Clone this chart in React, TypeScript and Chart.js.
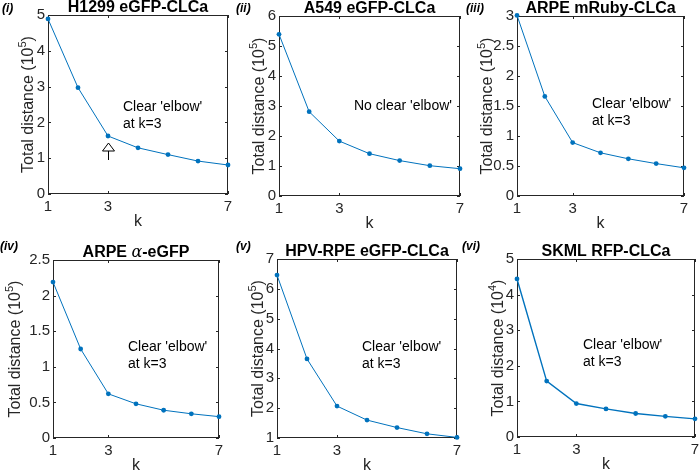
import React, { useEffect, useRef } from "react";
import { Chart, registerables } from "chart.js";

Chart.register(...registerables);

// ---------------- data ----------------
const kValues = [1, 2, 3, 4, 5, 6, 7];
const xTickValues = [1, 3, 7];

const h1299Values = [4.89, 2.97, 1.62, 1.29, 1.1, 0.92, 0.81];
const a549Values = [5.39, 2.81, 1.83, 1.41, 1.18, 1.01, 0.91];
const arpeRubyValues = [3.01, 1.66, 0.89, 0.72, 0.62, 0.54, 0.47];
const arpeAlphaValues = [2.19, 1.25, 0.62, 0.48, 0.39, 0.34, 0.3];
const hpvRpeValues = [6.46, 3.65, 2.07, 1.6, 1.35, 1.14, 1.02];
const skmlValues = [4.44, 1.57, 0.94, 0.79, 0.66, 0.58, 0.51];

const seriesList = [h1299Values, a549Values, arpeRubyValues, arpeAlphaValues, hpvRpeValues, skmlValues];

const panelLabels = ["(i)", "(ii)", "(iii)", "(iv)", "(v)", "(vi)"];
const titleParts: { t: string; s: string }[][] = [
  [{ t: "H1299 eGFP-CLCa", s: "bold" }],
  [{ t: "A549 eGFP-CLCa", s: "bold" }],
  [{ t: "ARPE mRuby-CLCa", s: "bold" }],
  [{ t: "ARPE ", s: "bold" }, { t: "α", s: "italic" }, { t: "-eGFP", s: "bold" }],
  [{ t: "HPV-RPE eGFP-CLCa", s: "bold" }],
  [{ t: "SKML RFP-CLCa", s: "bold" }],
];
const yTitleText = "Total distance (10";
const yExponents = ["5", "5", "5", "5", "5", "4"];
const xTitleText = "k";
const yMins = [0, 0, 0, 0, 1, 0];
const yMaxs = [5, 6, 3, 2.5, 7, 5];
const ySteps = [1, 1, 0.5, 0.5, 1, 1];
const notes = [
  ["Clear 'elbow'", "at k=3"],
  ["No clear 'elbow'"],
  ["Clear 'elbow'", "at k=3"],
  ["Clear 'elbow'", "at k=3"],
  ["Clear 'elbow'", "at k=3"],
  ["Clear 'elbow'", "at k=3"],
];
const arrowAtK = [3, null, null, null, null, null];

// ---------------- layout (pixels) ----------------
const W = 699;
const H = 472;
// [left, top, right, bottom] of each plot area
const areas = [
  [48, 15, 228, 194],
  [279, 16, 460, 196],
  [517, 16, 684, 196],
  [53, 260, 219, 438],
  [277, 259, 457, 438],
  [517, 259, 696, 437],
];
const yTitleX = [27, 258, 486, 14, 257, 497];
const labelPos = [
  [2, 12],
  [236, 12],
  [466, 12],
  [0, 250],
  [236, 250],
  [462, 250],
];
const notePos = [
  [123, 111],
  [354, 110],
  [592, 108],
  [128, 351],
  [362, 351],
  [583, 349],
];
const lineWidths = [1, 1, 1, 1, 1, 1.4];

const FONT = '"Liberation Sans", Arial, Helvetica, sans-serif';
const TEXT = "#262626";
const BLUE = "#0072BD";

function makeOverlay(i: number) {
  return {
    id: "matlabFrame" + i,
    beforeDatasetsDraw(chart: any) {
      const { ctx, chartArea } = chart;
      const { left, top, right, bottom } = chartArea;
      const xs = chart.scales.x;
      const ys = chart.scales.y;
      ctx.save();
      ctx.strokeStyle = TEXT;
      ctx.lineWidth = 1;
      ctx.strokeRect(left + 0.5, top + 0.5, right - left - 1, bottom - top - 1);
      ctx.beginPath();
      for (const t of ys.ticks) {
        const py = Math.round(ys.getPixelForValue(t.value)) + 0.5;
        ctx.moveTo(left, py);
        ctx.lineTo(left + 3, py);
        ctx.moveTo(right, py);
        ctx.lineTo(right - 3, py);
      }
      for (const t of xs.ticks) {
        const px = Math.round(xs.getPixelForValue(t.value)) + 0.5;
        ctx.moveTo(px, bottom);
        ctx.lineTo(px, bottom - 3);
        ctx.moveTo(px, top);
        ctx.lineTo(px, top + 3);
      }
      ctx.stroke();
      ctx.restore();
    },
    afterDraw(chart: any) {
      const { ctx, chartArea } = chart;
      const { left, top, right, bottom } = chartArea;
      const xs = chart.scales.x;
      const ys = chart.scales.y;
      ctx.save();
      ctx.fillStyle = "#000";
      ctx.textBaseline = "alphabetic";

      // title (segments)
      const parts = titleParts[i];
      const fontFor = (s: string) =>
        s === "italic" ? `italic 16px "DejaVu Serif", serif` : `bold 16px ${FONT}`;
      let total = 0;
      for (const p of parts) {
        ctx.font = fontFor(p.s);
        total += ctx.measureText(p.t).width;
      }
      let tx = (left + right) / 2 - total / 2;
      ctx.textAlign = "left";
      for (const p of parts) {
        ctx.font = fontFor(p.s);
        ctx.fillText(p.t, tx, top - 3);
        tx += ctx.measureText(p.t).width;
      }

      // panel label
      ctx.font = `bold italic 12px ${FONT}`;
      ctx.fillText(panelLabels[i], labelPos[i][0], labelPos[i][1]);

      // y-axis title with superscript
      ctx.fillStyle = TEXT;
      ctx.save();
      ctx.translate(yTitleX[i], (top + bottom) / 2);
      ctx.rotate(-Math.PI / 2);
      ctx.font = `16px ${FONT}`;
      const w1 = ctx.measureText(yTitleText).width;
      ctx.font = `11px ${FONT}`;
      const w2 = ctx.measureText(yExponents[i]).width;
      ctx.font = `16px ${FONT}`;
      const w3 = ctx.measureText(")").width;
      let sx = -(w1 + w2 + w3) / 2;
      const base = 5.5;
      ctx.fillText(yTitleText, sx, base);
      sx += w1;
      ctx.font = `11px ${FONT}`;
      ctx.fillText(yExponents[i], sx, base - 7);
      sx += w2;
      ctx.font = `16px ${FONT}`;
      ctx.fillText(")", sx, base);
      ctx.restore();

      // x-axis title
      ctx.font = `16px ${FONT}`;
      ctx.textAlign = "center";
      ctx.fillText(xTitleText, (left + right) / 2, bottom + 32);

      // annotation text
      ctx.font = `14px ${FONT}`;
      ctx.textAlign = "left";
      ctx.fillStyle = "#000";
      notes[i].forEach((line, j) => {
        ctx.fillText(line, notePos[i][0], notePos[i][1] + j * 17);
      });

      // arrow
      const ak = arrowAtK[i];
      if (ak !== null) {
        const ax = Math.round(xs.getPixelForValue(ak)) + 0.5;
        const py = ys.getPixelForValue(seriesList[i][kValues.indexOf(ak)]);
        const tip = py + 7;
        ctx.strokeStyle = "#000";
        ctx.lineWidth = 1;
        ctx.beginPath();
        ctx.moveTo(ax, tip);
        ctx.lineTo(ax + 6, tip + 8);
        ctx.lineTo(ax - 6, tip + 8);
        ctx.closePath();
        ctx.stroke();
        ctx.beginPath();
        ctx.moveTo(ax, tip + 8);
        ctx.lineTo(ax, tip + 17);
        ctx.stroke();
      }
      ctx.restore();
    },
  };
}

function Panel({ index }: { index: number }) {
  const ref = useRef<HTMLCanvasElement | null>(null);
  useEffect(() => {
    const canvas = ref.current;
    if (!canvas) return;
    const [L, T, R, B] = areas[index];
    const values = seriesList[index];
    const chart = new Chart(canvas, {
      type: "line",
      data: {
        datasets: [
          {
            data: kValues.map((k, j) => ({ x: k, y: values[j] })),
            borderColor: BLUE,
            backgroundColor: BLUE,
            borderWidth: lineWidths[index],
            pointRadius: 2.4,
            pointBorderWidth: 0,
            pointBackgroundColor: BLUE,
            tension: 0,
            clip: false as any,
          },
        ],
      },
      options: {
        animation: false,
        responsive: false,
        devicePixelRatio: 1,
        events: [],
        layout: { padding: { left: 0, top: T, right: W - R, bottom: 0 } },
        plugins: { legend: { display: false }, tooltip: { enabled: false }, title: { display: false } },
        scales: {
          x: {
            type: "linear",
            min: 1,
            max: 7,
            afterBuildTicks: (s: any) => {
              s.ticks = xTickValues.map((v) => ({ value: v }));
            },
            afterFit: (s: any) => {
              s.height = H - B;
              s.paddingLeft = 0;
              s.paddingRight = 0;
            },
            grid: { display: false, drawTicks: false },
            border: { display: false },
            ticks: {
              padding: 4,
              color: TEXT,
              font: { family: FONT, size: 15 },
              maxRotation: 0,
              autoSkip: false,
              callback: (v: any) => String(v),
            },
          },
          y: {
            type: "linear",
            min: yMins[index],
            max: yMaxs[index],
            afterFit: (s: any) => {
              s.width = L;
              s.paddingTop = 0;
              s.paddingBottom = 0;
            },
            grid: { display: false, drawTicks: false },
            border: { display: false },
            ticks: {
              stepSize: ySteps[index],
              padding: 3,
              color: TEXT,
              font: { family: FONT, size: 15 },
              autoSkip: false,
              callback: (v: any) => String(Math.round(Number(v) * 100) / 100),
            },
          },
        },
      } as any,
      plugins: [makeOverlay(index)],
    });
    return () => chart.destroy();
  }, [index]);
  return (
    <canvas
      ref={ref}
      width={W}
      height={H}
      style={{ position: "absolute", left: 0, top: 0, width: W, height: H }}
    />
  );
}

export default function App() {
  return (
    <div
      style={{
        position: "fixed",
        left: 0,
        top: 0,
        width: W,
        height: H,
        background: "#fff",
        overflow: "hidden",
      }}
    >
      {seriesList.map((_, i) => (
        <Panel key={i} index={i} />
      ))}
    </div>
  );
}
